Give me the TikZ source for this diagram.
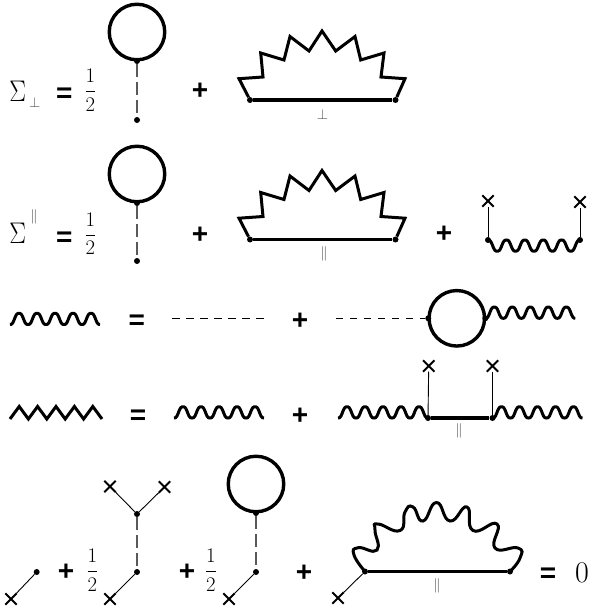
\documentclass[tikz,border=0pt]{standalone}
\usepackage{amsmath}
\usepackage{amssymb}
\usepackage{fontspec}
\newfontfamily\opfont{Liberation Sans}
\usetikzlibrary{positioning, shapes.misc}
\tikzset{vertex/.style={circle, fill=black, inner sep=0pt, minimum size=6pt},
loopline/.style={circle, draw, line width=3.4pt, inner sep=0pt, minimum size=55.5pt},
prop/.style={line width=3.4pt},
photon/.style={line width=3pt},
wave/.style={line width=3pt},
ghost/.style={gray!70!black, line width=1.1pt, dash pattern=on 13pt off 5pt},
bare/.style={line width=0.9pt, dash pattern=on 7.3pt off 6.7pt},
ext/.style={line width=0.9pt},
xmark/.style={cross out, draw, line width=1.9pt, inner sep=0pt, minimum size=9.5pt},
op/.style={font=\opfont\bfseries\fontsize{28}{28}\selectfont, yshift=-1pt},
eqop/.style={op, yshift=-3pt},
half/.style={font=\fontsize{21}{21}\selectfont},
sym/.style={font=\fontsize{24}{24}\selectfont},
perpidx/.style={font=\fontsize{15}{15}\selectfont, text=gray!60!black},
paridx/.style={font=\fontsize{15.5}{15.5}\selectfont, text=gray!60!black},
}
\newcommand{\wavy}[1]{\draw[wave, shift={(#1)}] plot[domain=0:90, samples=91] (\x,{6.1*(cos(20*\x)-1)-0.5*(cos(60*\x)-1)});}
\begin{document}
\begin{tikzpicture}[x=1pt, y=-1pt]
            \useasboundingbox (0,0) rectangle (590,612);

            % first line
            \node[sym](sg1) at (17.8,91.7) {\scalebox{1}[1.2]{$\Sigma$}};
            \node[perpidx, right of=sg1, node distance=17pt, yshift=-11pt](sb1) {$\perp$};
            \node[eqop](eq1) at (64.3,91.7) {=};
            \node[half](hf1) at (90.5,90.3) {$\dfrac{1}{2}$};
            \node[vertex](a1) at (137,61) {};
            \node[loopline, above of=a1, node distance=29pt](c1) {};
            \node[vertex, below of=a1, node distance=59pt](a2) {};
            \node[op](pl1) at (200,90) {+};
            \node[vertex](b1) at (250,100) {};
            \node[vertex, right of=b1, node distance=145.5pt](b2) {};
            \node[perpidx, below of=b1, node distance=14.5pt, xshift=72.5pt](lb1) {$\perp$};
            \draw[ghost] (a1) -- (a2);
            \draw[prop] (b1) -- (b2);
            \draw[photon] (b1) -- (239,78.7) -- (263,77) -- (260.7,53) -- (284,60) -- (290,36.5) -- (309,51) -- (322,31)
                -- (335.7,51) -- (355,36.5) -- (360.7,60) -- (384,53) -- (381,77) -- (405,78.7) -- (b2);

            % second line
            \node[sym](sg2) at (17.8,233.7) {\scalebox{1}[1.2]{$\Sigma$}};
            \node[paridx, right of=sg2, node distance=16.2pt, yshift=17pt](sb2) {$\parallel$};
            \node[eqop](eq2) at (64.3,235) {=};
            \node[half](hf2) at (90.5,233.6) {$\dfrac{1}{2}$};
            \node[vertex](a3) at (137,203) {};
            \node[loopline, above of=a3, node distance=29pt](c2) {};
            \node[vertex, below of=a3, node distance=58pt](a4) {};
            \node[op](pl2) at (200,234) {+};
            \node[vertex](b3) at (250,239.5) {};
            \node[vertex, right of=b3, node distance=145.5pt](b4) {};
            \node[paridx, below of=b3, node distance=14.5pt, xshift=74pt](lb2) {$\parallel$};
            \draw[ghost] (a3) -- (a4);
            \draw[prop] (b3) -- (b4);
            \draw[photon] (b3) -- (239,218.2) -- (263,216.5) -- (260.7,192.5) -- (284,199.5) -- (290,176) -- (309,190.5) -- (322,170.5)
                -- (335.7,190.5) -- (355,176) -- (360.7,199.5) -- (384,192.5) -- (381,216.5) -- (405,218.2) -- (b4);
            \node[op](pl3) at (444,233) {+};
            \node[vertex](d1) at (488,240) {};
            \node[vertex, right of=d1, node distance=92pt](d2) {};
            \node[xmark, above of=d1, node distance=39pt](x1) {};
            \node[xmark, above of=d2, node distance=38pt](x2) {};
            \draw[ext] (d1) -- (x1);
            \draw[ext] (d2) -- (x2);
            \draw[wave, shift={(d1)}] plot[domain=0:92, samples=92] (\x,{6.1*(1-cos(19.565*\x))+0.5*(cos(58.696*\x)-1)});

            % third line
            \coordinate(w1) at (10,324.5);
            \wavy{w1}
            \node[eqop](eq3) at (136.7,318.3) {=};
            \coordinate(e1) at (172.3,318.3);
            \coordinate(e2) at (264,318.3);
            \draw[bare] (e1) -- (e2);
            \node[op](pl4) at (300,320) {+};
            \coordinate(e3) at (336,318.3);
            \node[vertex](f1) at (428.3,318.3) {};
            \node[vertex, right of=f1, node distance=57pt](f2) {};
            \node[loopline, right of=f1, node distance=28.5pt](c3) {};
            \draw[bare] (e3) -- (f1);
            \wavy{f2}

            % fourth line
            \coordinate(z1) at (10,419);
            \coordinate(z2) at (102,419);
            \draw[photon] (z1) -- (19.2,406.5) -- (28.4,419) -- (37.6,406.5) -- (46.8,419) -- (56,406.5) -- (65.2,419) -- (74.4,406.5) -- (83.6,419) -- (92.8,406.5) -- (z2);
            \node[eqop](eq4) at (138,413.3) {=};
            \coordinate(w2) at (174,418);
            \wavy{w2}
            \node[op](pl5) at (300,415) {+};
            \node[vertex](g1) at (428,418) {};
            \node[vertex, right of=g1, node distance=64.5pt](g2) {};
            \node[xmark, above of=g1, node distance=52pt, xshift=0.7pt](x3) {};
            \node[xmark, above of=g2, node distance=52pt](x4) {};
            \node[paridx, below of=g1, node distance=13pt, xshift=31pt](lb3) {$\parallel$};
            \coordinate(w3) at (338,418);
            \wavy{w3}
            \wavy{g2}
            \draw[prop] (g1) -- (g2);
            \draw[ext] (g1) -- (x3);
            \draw[ext] (g2) -- (x4);

            % fifth line
            \node[vertex](h1) at (36.7,572) {};
            \node[xmark](x5) at (11,599) {};
            \draw[ext] (h1) -- (x5);
            \node[op](pl6) at (66,571) {+};
            \node[half](hf3) at (92.5,570.4) {$\dfrac{1}{2}$};
            \node[vertex](h2) at (137,572) {};
            \node[vertex, above of=h2, node distance=58pt](h3) {};
            \node[xmark](x6) at (110,599) {};
            \node[xmark](x7) at (110,486.5) {};
            \node[xmark](x8) at (164.5,487) {};
            \draw[ghost] (h3) -- (h2);
            \draw[ext] (h2) -- (x6);
            \draw[ext] (h3) -- (x7);
            \draw[ext] (h3) -- (x8);
            \node[op](pl7) at (187,571) {+};
            \node[half](hf4) at (210.8,570.4) {$\dfrac{1}{2}$};
            \node[vertex](k1) at (256,572) {};
            \node[vertex, above of=k1, node distance=59pt](k2) {};
            \node[loopline, above of=k2, node distance=29pt](c4) {};
            \node[xmark](x9) at (229,599) {};
            \draw[ghost] (k2) -- (k1);
            \draw[ext] (k1) -- (x9);
            \node[op](pl8) at (304,572) {+};
            \node[vertex](m1) at (365,571.5) {};
            \node[vertex, right of=m1, node distance=145pt](m2) {};
            \node[xmark](x10) at (338,598) {};
            \node[paridx, below of=m1, node distance=14.5pt, xshift=72pt](lb4) {$\parallel$};
            \draw[prop] (m1) -- (m2);
            \draw[ext] (m1) -- (x10);
            \draw[wave] plot[smooth, tension=0.9] coordinates {(m1) (354,555) (358.3,547.7) (377,550) (375,530) (378,524) (400,530.5)
                (405,512) (413,507) (423,521) (436.5,502.5) (450,521) (467,507) (473,530.5) (497,524) (495,548) (518,548) (520,558) (m2)};
            \node[eqop](eq5) at (548,571) {=};
            \node[font=\fontsize{30}{30}\selectfont](zr) at (582,572.5) {0};
        \end{tikzpicture}
\end{document}
